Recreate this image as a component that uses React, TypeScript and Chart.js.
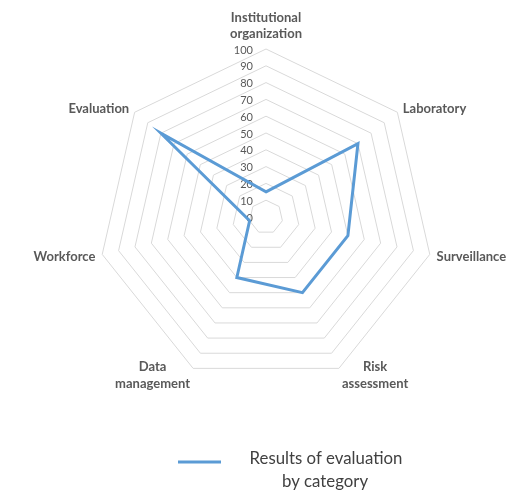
import React, { useEffect, useRef } from "react";
import { Chart, registerables } from "chart.js";

Chart.register(...registerables);

const categories: string[][] = [
  ["Institutional", "organization"],
  ["Laboratory"],
  ["Surveillance"],
  ["Risk", "assessment"],
  ["Data", "management"],
  ["Workforce"],
  ["Evaluation"],
];
const values: number[] = [15, 70, 50, 50, 40, 10, 80];
const tickValues: number[] = [0, 10, 20, 30, 40, 50, 60, 70, 80, 90, 100];
const seriesLabel: string[] = ["Results of evaluation", "by category"];

const FONT = "Lato, 'Open Sans', sans-serif";
const LINE_COLOR = "#5b9bd5";

const decorPlugin = {
  id: "decor",
  beforeDatasetsDraw(chart: any) {
    const scale = chart.scales.r;
    const ctx = chart.ctx;
    ctx.save();
    ctx.font = `11px ${FONT}`;
    ctx.fillStyle = "#595959";
    ctx.textAlign = "right";
    ctx.textBaseline = "middle";
    tickValues.forEach((v) => {
      const d = scale.getDistanceFromCenterForValue(v);
      ctx.fillText(String(v), scale.xCenter - 13, scale.yCenter - d + 1);
    });
    ctx.restore();
  },
  afterDraw(chart: any) {
    const scale = chart.scales.r;
    const ctx = chart.ctx;
    ctx.save();
    // point labels
    ctx.font = `bold 13px ${FONT}`;
    ctx.fillStyle = "#595959";
    ctx.textBaseline = "middle";
    const lh = 16.5;
    categories.forEach((lines, i) => {
      const p = scale.getPointPosition(i, scale.drawingArea + 7);
      const widths = lines.map((l) => ctx.measureText(l).width);
      const W = Math.max(...widths);
      const H = lines.length * lh;
      const dx = p.x - scale.xCenter;
      let cx: number;
      if (Math.abs(dx) < 1) cx = p.x;
      else if (dx > 0) cx = p.x + W / 2;
      else cx = p.x - W / 2;
      let top: number;
      if (i === 0) top = p.y - H;
      else top = p.y - H / 2;
      ctx.textAlign = "center";
      lines.forEach((l, k) => {
        ctx.fillText(l, cx, top + lh * k + lh / 2 + 0.5);
      });
    });
    // legend
    const lx1 = 178;
    const lx2 = 221;
    const ly = 462;
    ctx.strokeStyle = LINE_COLOR;
    ctx.lineWidth = 3;
    ctx.beginPath();
    ctx.moveTo(lx1, ly);
    ctx.lineTo(lx2, ly);
    ctx.stroke();
    ctx.font = `16.8px ${FONT}`;
    ctx.fillStyle = "#404040";
    ctx.textAlign = "center";
    ctx.fillText(seriesLabel[0], 326, 459);
    ctx.fillText(seriesLabel[1], 325, 482);
    ctx.restore();
  },
};

export default function App() {
  const ref = useRef<HTMLCanvasElement | null>(null);
  useEffect(() => {
    if (!ref.current) return;
    const chart = new Chart(ref.current, {
      type: "radar",
      data: {
        labels: categories,
        datasets: [
          {
            label: seriesLabel.join(" "),
            data: values,
            borderColor: LINE_COLOR,
            borderWidth: 3,
            pointRadius: 0,
            pointHoverRadius: 0,
            fill: false,
            backgroundColor: "transparent",
          },
        ],
      },
      options: {
        responsive: false,
        animation: false,
        devicePixelRatio: 1,
        layout: { padding: { left: 98, top: 49, right: 79, bottom: 105 } },
        plugins: { legend: { display: false }, tooltip: { enabled: false } },
        elements: { line: { tension: 0, borderJoinStyle: "miter" } },
        scales: {
          r: {
            min: 0,
            max: 100,
            ticks: { stepSize: 10, display: false },
            grid: { color: "#d9d9d9", lineWidth: 1 },
            angleLines: { display: false },
            pointLabels: { display: false },
          },
        },
      },
      plugins: [decorPlugin],
    });
    return () => chart.destroy();
  }, []);
  return (
    <div style={{ position: "fixed", left: 0, top: 0, width: 513, height: 490, background: "#fff" }}>
      <canvas ref={ref} width={513} height={490} style={{ width: 513, height: 490, display: "block" }} />
    </div>
  );
}
